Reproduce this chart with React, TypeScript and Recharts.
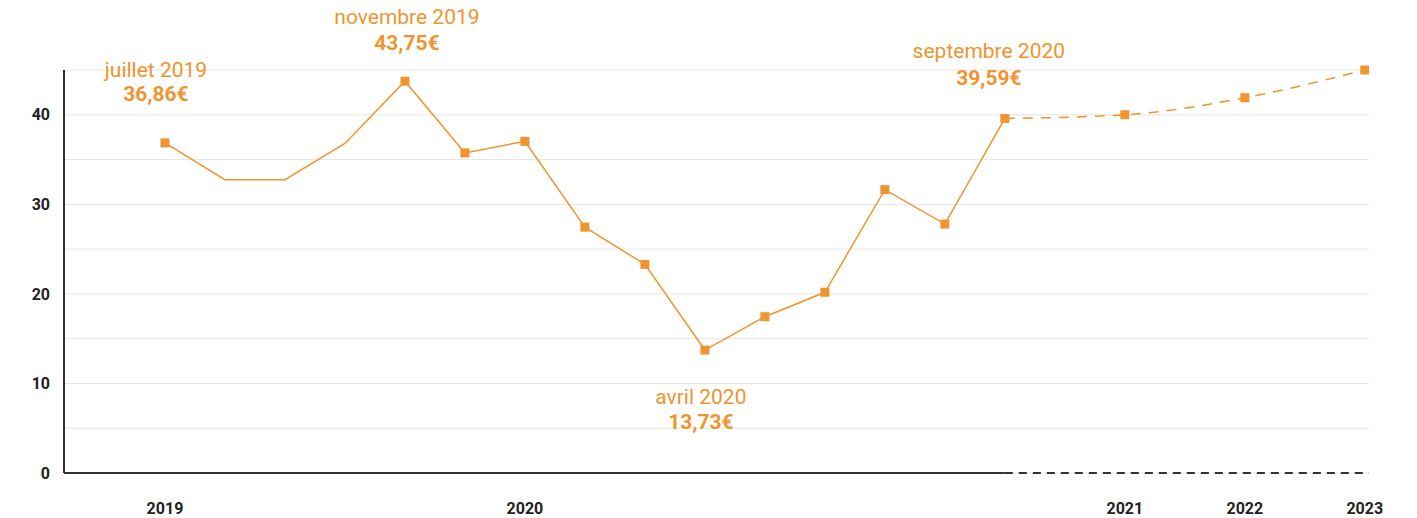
import React from 'react';
import { LineChart, Line, XAxis, YAxis, CartesianGrid, ReferenceLine, LabelList } from 'recharts';

const monthLabels = [
  'juillet 2019', 'août 2019', 'septembre 2019', 'octobre 2019', 'novembre 2019', 'décembre 2019',
  'janvier 2020', 'février 2020', 'mars 2020', 'avril 2020', 'mai 2020', 'juin 2020',
  'juillet 2020', 'août 2020', 'septembre 2020',
];
const monthValues = [36.86, 32.75, 32.75, 36.8, 43.75, 35.74, 37.04, 27.45, 23.3, 13.73, 17.45, 20.18, 31.64, 27.8, 39.59];
const monthPositions = [0, 1, 2, 3, 4, 5, 6, 7, 8, 9, 10, 11, 12, 13, 14];
const unmarkedMonths = [1, 2, 3];
const annotatedMonths = [0, 4, 9, 14];

const forecastLabels = ['septembre 2020', '2021', '2022', '2023'];
const forecastPositions = [14, 16, 18, 20];
const forecastValues = [39.59, 40.0, 41.9, 45.0];

const xTickPositions = [0, 6, 16, 18, 20];
const xTickLabels = ['2019', '2020', '2021', '2022', '2023'];
const yTicks = [0, 5, 10, 15, 20, 25, 30, 35, 40, 45];

const ORANGE = '#f0942f';
const AXIS = '#333333';
const X_MIN = -1.683;
const X_MAX = 20.07;

// label placement relative to the point (style only)
const annotationOffsets: Record<number, { dx: number; name: number; val: number }> = {
  0: { dx: -9, name: -65.5, val: -41.5 },
  4: { dx: 2, name: -57, val: -31 },
  9: { dx: -4, name: 54, val: 79 },
  14: { dx: -16, name: -60, val: -33 },
};

const actualData = monthPositions.map((p, i) => ({ x: p, label: monthLabels[i], value: monthValues[i] }));
const forecastData = forecastPositions.map((p, i) => ({ x: p, label: forecastLabels[i], value: forecastValues[i] }));

const fmt = (v: number) => v.toFixed(2).replace('.', ',') + '€';

const SquareDot = (props: any) => {
  const { cx, cy, index, skip } = props;
  if (cx == null || cy == null) return <g key={`d-${index}`} />;
  if (skip && skip.includes(index)) return <g key={`d-${index}`} />;
  return <rect key={`d-${index}`} x={cx - 4.5} y={cy - 4.5} width={9} height={9} fill={ORANGE} />;
};

const Annotation = (props: any) => {
  const { x, y, index } = props;
  if (!annotatedMonths.includes(index)) return null;
  const o = annotationOffsets[index];
  const cx = x + o.dx;
  return (
    <g>
      <text x={cx} y={y + o.name} textAnchor="middle" fill={ORANGE} fontSize={21} fontFamily="Roboto">
        {monthLabels[index]}
      </text>
      <text x={cx} y={y + o.val} textAnchor="middle" fill={ORANGE} fontSize={21} fontWeight="bold" fontFamily="Roboto">
        {fmt(monthValues[index])}
      </text>
    </g>
  );
};

const YTick = (props: any) => {
  const { x, y, payload } = props;
  if (payload.value % 10 !== 0 || payload.value === 45) return <g />;
  return (
    <text x={x} y={y} dy="0.355em" textAnchor="end" fill="#222" fontSize={16} fontWeight="bold" fontFamily="Roboto">
      {payload.value}
    </text>
  );
};

const XTick = (props: any) => {
  const { x, y, payload } = props;
  const i = xTickPositions.indexOf(payload.value);
  return (
    <text x={x} y={y} dy="0.71em" textAnchor="middle" fill="#222" fontSize={16} fontWeight="bold" fontFamily="Roboto">
      {xTickLabels[i]}
    </text>
  );
};

export default function App() {
  return (
    <div style={{ position: 'absolute', left: 0, top: 0, width: 1417, height: 518, background: '#fff' }}>
      <LineChart width={1417} height={518} margin={{ top: 70, right: 48, bottom: 0, left: 0 }}>
        <CartesianGrid vertical={false} stroke="#e6e6e6" strokeWidth={1} />
        <XAxis
          type="number"
          dataKey="x"
          domain={[X_MIN, X_MAX]}
          allowDataOverflow
          ticks={xTickPositions}
          tick={<XTick />}
          tickLine={false}
          tickSize={0}
          tickMargin={30}
          axisLine={false}
          height={45}
          interval={0}
        />
        <YAxis
          type="number"
          domain={[0, 45]}
          ticks={yTicks}
          tick={<YTick />}
          tickLine={false}
          tickSize={0}
          tickMargin={14}
          axisLine={{ stroke: AXIS, strokeWidth: 2 }}
          width={64}
          interval={0}
        />
        <ReferenceLine
          segment={[{ x: X_MIN, y: 0 }, { x: 14, y: 0 }]}
          stroke={AXIS}
          strokeWidth={2}
          ifOverflow="visible"
        />
        <ReferenceLine
          segment={[{ x: 14, y: 0 }, { x: X_MAX, y: 0 }]}
          stroke={AXIS}
          strokeWidth={2}
          strokeDasharray="8 6"
          ifOverflow="visible"
        />
        <Line
          data={forecastData}
          dataKey="value"
          type="monotone"
          stroke={ORANGE}
          strokeWidth={1.5}
          strokeDasharray="10 8"
          dot={(p: any) => <SquareDot {...p} skip={[0]} />}
          activeDot={false}
          isAnimationActive={false}
        />
        <Line
          data={actualData}
          dataKey="value"
          type="linear"
          stroke={ORANGE}
          strokeWidth={1.5}
          dot={(p: any) => <SquareDot {...p} skip={unmarkedMonths} />}
          activeDot={false}
          isAnimationActive={false}
        >
          <LabelList dataKey="value" content={<Annotation />} />
        </Line>
      </LineChart>
    </div>
  );
}
